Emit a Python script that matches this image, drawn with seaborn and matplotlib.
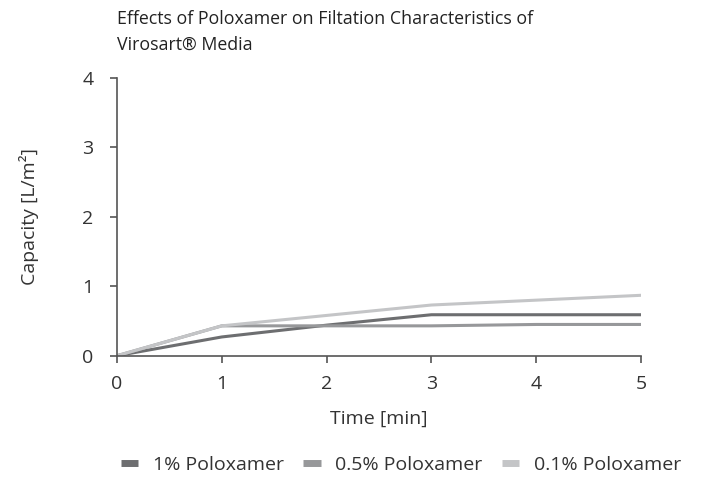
import numpy as np
import pandas as pd
import seaborn as sns
import matplotlib.pyplot as plt

# values
time_min = [0, 1, 2, 3, 4, 5]
cap_1pct = [0.0, 0.27, 0.44, 0.59, 0.59, 0.59]
cap_05pct = [0.0, 0.43, 0.43, 0.43, 0.45, 0.45]
cap_01pct = [0.0, 0.43, 0.58, 0.73, 0.80, 0.87]
series_names = ['1% Poloxamer', '0.5% Poloxamer', '0.1% Poloxamer']
line_colors = ['#6d6e70', '#97989a', '#c4c5c7']

df = pd.DataFrame({
    'Time': time_min * 3,
    'Capacity': cap_1pct + cap_05pct + cap_01pct,
    'Series': np.repeat(series_names, len(time_min)),
})

sns.set_theme(style='white')
plt.rcParams['font.family'] = ['Open Sans', 'DejaVu Sans']
text_col = '#333333'
fs = 14

fig = plt.figure(figsize=(7.02, 4.78), dpi=100)
ax = fig.add_axes([117 / 702, 1 - 355.7 / 478, (641 - 117) / 702, (355.7 - 78) / 478])

sns.lineplot(data=df, x='Time', y='Capacity', hue='Series', hue_order=series_names,
             palette=line_colors, linewidth=2.2, ax=ax, legend=False)

ax.set_xlim(0, 5)
ax.set_ylim(0, 4)
ax.set_xticks(time_min)
ax.set_yticks([0, 1, 2, 3, 4])
for s in ['top', 'right']:
    ax.spines[s].set_visible(False)
for s in ['left', 'bottom']:
    ax.spines[s].set_color('#555555')
    ax.spines[s].set_linewidth(1.2)
ax.tick_params(axis='both', which='major', direction='out', length=5, width=1.2,
               color='#555555', labelsize=fs, labelcolor=text_col,
               bottom=True, left=True)
ax.tick_params(axis='x', pad=9)
ax.tick_params(axis='y', pad=12)
ax.set_xlabel('Time [min]', fontsize=fs, color=text_col, labelpad=12)
ax.set_ylabel('Capacity [L/m²]', fontsize=fs, color=text_col, labelpad=31)

fig.text(117 / 702, 1 - 24 / 478, 'Effects of Poloxamer on Filtation Characteristics of',
         ha='left', va='baseline', fontsize=12.8, fontweight='medium', color='#222222')
fig.text(117 / 702, 1 - 50 / 478, 'Virosart® Media',
         ha='left', va='baseline', fontsize=12.8, fontweight='medium', color='#222222')

handles = [plt.Line2D([], [], color=c, linewidth=5, solid_capstyle='butt') for c in line_colors]
fig.legend(handles, series_names, loc='center', bbox_to_anchor=(401 / 702, 1 - 465 / 478),
           ncol=3, frameon=False, fontsize=fs, handlelength=0.9, handletextpad=0.75,
           columnspacing=1.0, labelcolor=text_col)

fig.savefig('out.png', dpi=100)
